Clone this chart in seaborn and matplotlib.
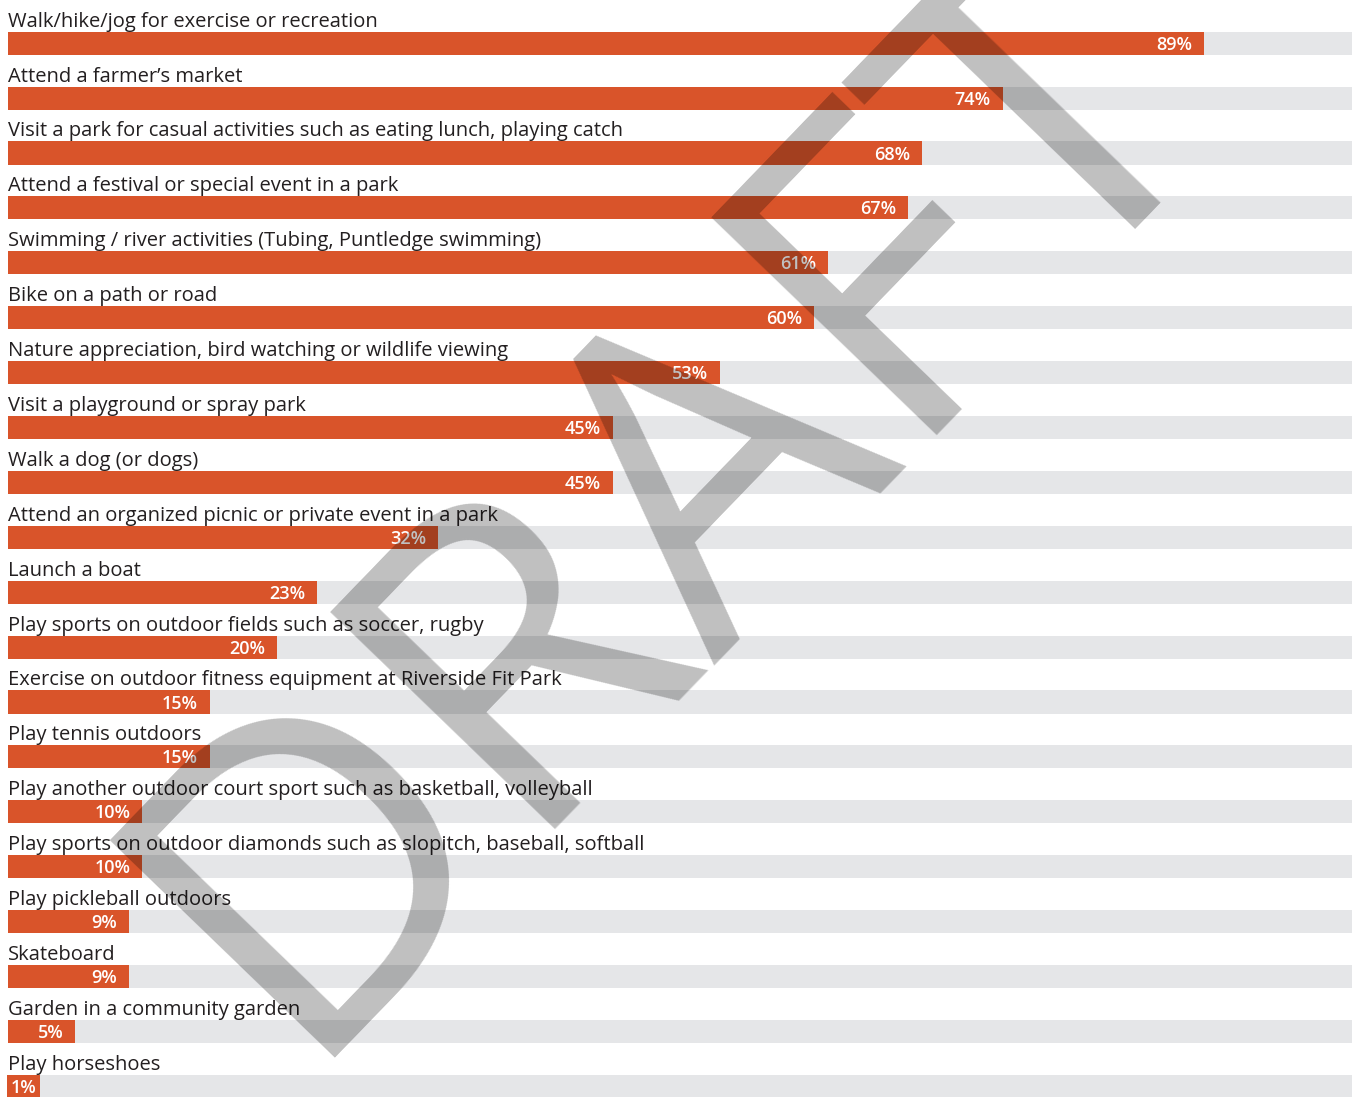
import matplotlib
matplotlib.use("Agg")
import matplotlib.pyplot as plt
import pandas as pd
import seaborn as sns

# Share of respondents taking part in each activity (%)
activities = [
    "Walk/hike/jog for exercise or recreation",
    "Attend a farmer\u2019s market",
    "Visit a park for casual activities such as eating lunch, playing catch",
    "Attend a festival or special event in a park",
    "Swimming / river activities (Tubing, Puntledge swimming)",
    "Bike on a path or road",
    "Nature appreciation, bird watching or wildlife viewing",
    "Visit a playground or spray park",
    "Walk a dog (or dogs)",
    "Attend an organized picnic or private event in a park",
    "Launch a boat",
    "Play sports on outdoor fields such as soccer, rugby",
    "Exercise on outdoor fitness equipment at Riverside Fit Park",
    "Play tennis outdoors",
    "Play another outdoor court sport such as basketball, volleyball",
    "Play sports on outdoor diamonds such as slopitch, baseball, softball",
    "Play pickleball outdoors",
    "Skateboard",
    "Garden in a community garden",
    "Play horseshoes",
]
percent = [89, 74, 68, 67, 61, 60, 53, 45, 45, 32, 23, 20, 15, 15, 10, 10, 9, 9, 5, 1]
scale_max = 100

ORANGE = "#d9542a"
TRACK = "#e5e6e8"
INK = "#231f20"

sns.set_theme(style="white")
plt.rcParams["font.family"] = ["Open Sans", "DejaVu Sans"]

df = pd.DataFrame({"activity": activities, "pct": percent})
df["full"] = scale_max

W, H = 1354, 1097
fig = plt.figure(figsize=(W / 100, H / 100), dpi=100)
ax = fig.add_axes([0, 0, 1, 1])

BAR_W = 0.42
sns.barplot(data=df, x="full", y="activity", color=TRACK, saturation=1,
            width=BAR_W, errorbar=None, ax=ax, zorder=1, linewidth=0)
sns.barplot(data=df, x="pct", y="activity", color=ORANGE, saturation=1,
            width=BAR_W, errorbar=None, ax=ax, zorder=2, linewidth=0)

# pixel geometry of the layout
px_x = 13.44       # pixels per percentage point
px_y = 54.9        # pixels per row
x0_px, y0_px = 8, 43.2
ax.set_xlim(-x0_px / px_x, (W - x0_px) / px_x)
ax.set_ylim((H - y0_px) / px_y, -y0_px / px_y)
ax.axis("off")

for i, (name, v) in enumerate(zip(activities, percent)):
    # category label sitting just above its bar
    ax.text(0.02, i - BAR_W / 2 - 5 / px_y, name, ha="left", va="baseline",
            fontsize=14.5, color=INK, zorder=3)
    lbl = f"{v}%"
    y_lbl = i + BAR_W / 2 - 5 / px_y
    if v * px_x > 40:
        ax.text(v - 12 / px_x, y_lbl, lbl, ha="right", va="baseline",
                fontsize=13, color="white", fontweight="semibold", zorder=3)
    else:
        ax.text(2.4 / px_x, y_lbl, lbl, ha="left", va="baseline",
                fontsize=13, color="white", fontweight="semibold", zorder=3,
                bbox=dict(boxstyle="square,pad=0.2", fc=ORANGE, ec="none"))

# watermark across the whole chart
fig.text(292 / W, 1 - 1058 / H, "DRAFT", rotation=46, rotation_mode="anchor",
         ha="left", va="baseline", fontsize=316, color="black", alpha=0.25,
         zorder=10)

fig.savefig("out.png", dpi=100)
